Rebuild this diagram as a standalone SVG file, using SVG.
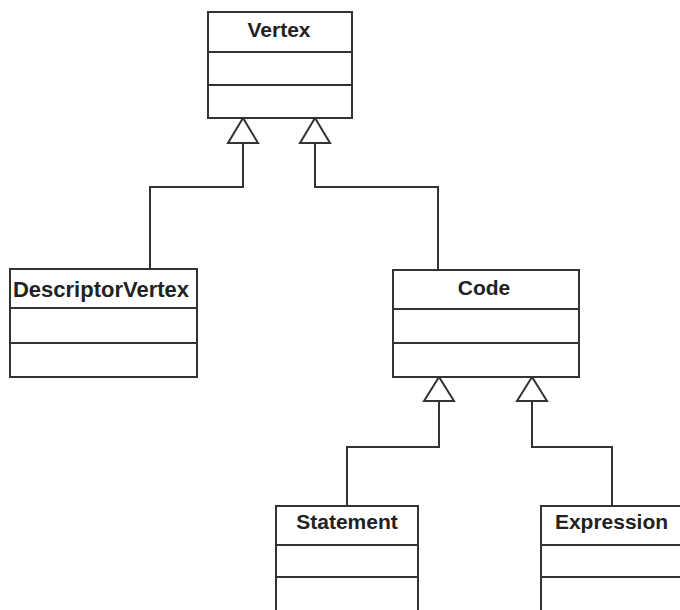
<svg xmlns="http://www.w3.org/2000/svg" width="680" height="610" viewBox="0 0 680 610">
<style>
.box{fill:#fff;stroke:#333;stroke-width:2}
.div{stroke:#333;stroke-width:2;fill:none}
.t{font-family:"Liberation Sans",Arial,sans-serif;font-weight:bold;font-size:21px;fill:#222;text-anchor:middle}
.c{fill:none;stroke:#333;stroke-width:2}
.tri{fill:#fff;stroke:#333;stroke-width:2;stroke-linejoin:miter}
</style>
<rect width="680" height="610" fill="#fff"/>
<g id="connectors">
<polyline class="c" points="150,269 150,187 243,187 243,143"/>
<polyline class="c" points="438,270 438,187 315,187 315,143"/>
<polyline class="c" points="347,506 347,447 439,447 439,401"/>
<polyline class="c" points="612,506 612,447 532,447 532,401"/>
<polygon class="tri" points="243,118 228,143 258,143"/>
<polygon class="tri" points="315,118 300,143 330,143"/>
<polygon class="tri" points="439,377 424,401 454,401"/>
<polygon class="tri" points="532,377 517,401 547,401"/>
</g>
<g id="Vertex">
<rect class="box" x="208" y="12" width="144" height="106"/>
<line class="div" x1="208" y1="52" x2="352" y2="52"/>
<line class="div" x1="208" y1="85" x2="352" y2="85"/>
<text class="t" x="279" y="37">Vertex</text>
</g>
<g id="DescriptorVertex">
<rect class="box" x="10" y="269" width="187" height="108"/>
<line class="div" x1="10" y1="308" x2="197" y2="308"/>
<line class="div" x1="10" y1="343" x2="197" y2="343"/>
<text class="t" x="101" y="297" style="font-size:22px">DescriptorVertex</text>
</g>
<g id="Code">
<rect class="box" x="393" y="270" width="186" height="107"/>
<line class="div" x1="393" y1="309" x2="579" y2="309"/>
<line class="div" x1="393" y1="343" x2="579" y2="343"/>
<text class="t" x="484" y="295">Code</text>
</g>
<g id="Statement">
<rect class="box" x="276" y="506" width="142" height="120"/>
<line class="div" x1="276" y1="545" x2="418" y2="545"/>
<line class="div" x1="276" y1="577" x2="418" y2="577"/>
<text class="t" x="347" y="529">Statement</text>
</g>
<g id="Expression">
<rect class="box" x="541" y="506" width="142" height="120"/>
<line class="div" x1="541" y1="545" x2="683" y2="545"/>
<line class="div" x1="541" y1="577" x2="683" y2="577"/>
<text class="t" x="611.5" y="529">Expression</text>
</g>
</svg>
